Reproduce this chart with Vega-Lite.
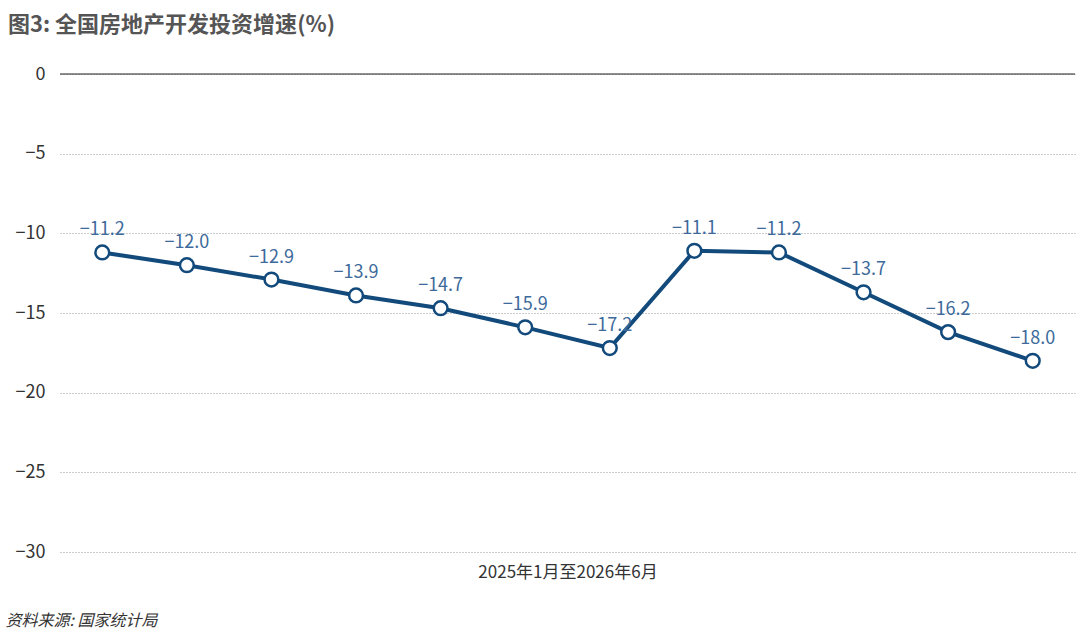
{
  "$schema": "https://vega.github.io/schema/vega-lite/v6.json",
  "width": 1015,
  "height": 478,
  "autosize": {"type": "none"},
  "padding": {"left": 60, "top": 74, "right": 5, "bottom": 83},
  "background": "white",
  "config": {"view": {"stroke": null}, "font": "Noto Sans CJK SC"},
  "title": {
    "text": "图3: 全国房地产开发投资增速(%)",
    "anchor": "start",
    "frame": "group",
    "dx": -52,
    "offset": 28,
    "fontSize": 22,
    "fontWeight": "bold",
    "color": "#555555"
  },
  "data": {
    "values": [
      {"i": 1, "v": -11.2},
      {"i": 2, "v": -12.0},
      {"i": 3, "v": -12.9},
      {"i": 4, "v": -13.9},
      {"i": 5, "v": -14.7},
      {"i": 6, "v": -15.9},
      {"i": 7, "v": -17.2},
      {"i": 8, "v": -11.1},
      {"i": 9, "v": -11.2},
      {"i": 10, "v": -13.7},
      {"i": 11, "v": -16.2},
      {"i": 12, "v": -18.0}
    ]
  },
  "encoding": {
    "x": {
      "field": "i",
      "type": "ordinal",
      "scale": {"type": "point", "padding": 0.5},
      "axis": {
        "labels": false,
        "ticks": false,
        "domain": false,
        "title": "2025年1月至2026年6月",
        "titleFontSize": 17,
        "titleFontWeight": "normal",
        "titleColor": "#333333",
        "titlePadding": 12
      }
    },
    "y": {
      "field": "v",
      "type": "quantitative",
      "scale": {"domain": [-30, 0]},
      "axis": {
        "values": [0, -5, -10, -15, -20, -25, -30],
        "ticks": false,
        "domain": false,
        "labelFontSize": 18,
        "labelColor": "#333333",
        "labelPadding": 15,
        "gridDash": [1, 2],
        "gridColor": "#999999",
        "title": "资料来源: 国家统计局",
        "titleAngle": 0,
        "titleX": -55,
        "titleY": 546,
        "titleAlign": "left",
        "titleBaseline": "middle",
        "titleFontSize": 16,
        "titleFontWeight": "normal",
        "titleFontStyle": "italic",
        "titleColor": "#333333"
      }
    }
  },
  "layer": [
    {
      "data": {"values": [{"z": 0}]},
      "mark": {"type": "rule", "color": "#222222", "strokeWidth": 1.2},
      "encoding": {"y": {"field": "z", "type": "quantitative"}, "x": null}
    },
    {
      "mark": {"type": "line", "color": "#134a7c", "strokeWidth": 4}
    },
    {
      "mark": {"type": "point", "filled": true, "fill": "white", "stroke": "#134a7c", "strokeWidth": 2.5, "size": 190, "opacity": 1}
    },
    {
      "mark": {"type": "text", "dy": -22, "fontSize": 18, "color": "#3d6a9b"},
      "encoding": {"text": {"field": "v", "type": "quantitative", "format": ".1f"}}
    }
  ]
}
